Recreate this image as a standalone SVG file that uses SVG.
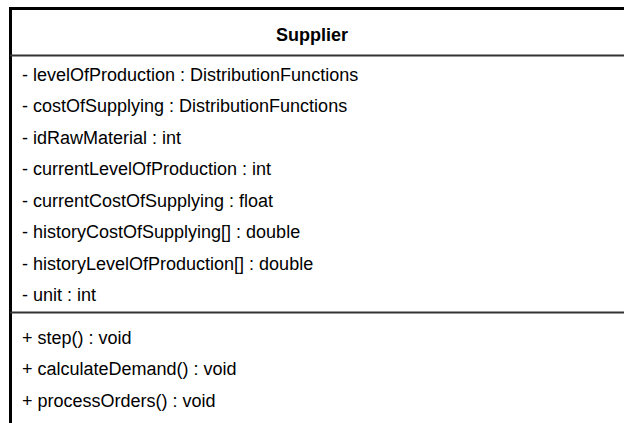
<svg xmlns="http://www.w3.org/2000/svg" width="624" height="423" viewBox="0 0 624 423">
  <style>
    .frame { fill: #ffffff; stroke: #000000; stroke-width: 3; }
    .sep { stroke: #333333; stroke-width: 2; }
    .title { font-family: "Liberation Sans", Arial, sans-serif; font-size: 18px; font-weight: bold; fill: #000000; }
    .member { font-family: "Liberation Sans", Arial, sans-serif; font-size: 18px; fill: #000000; }
  </style>
  <rect width="624" height="423" fill="#ffffff"/>
  <g id="Supplier">
    <!-- class frame runs past the right and bottom edges -->
    <rect class="frame" x="10.5" y="8.5" width="700" height="500"/>
    <line class="sep" x1="10" y1="55.5" x2="624" y2="55.5"/>
    <line class="sep" x1="10" y1="312.5" x2="624" y2="312.5"/>
    <text class="title" x="312" y="41" text-anchor="middle">Supplier</text>
    <g class="member">
      <text x="22" y="80.5">- levelOfProduction : DistributionFunctions</text>
      <text x="22" y="112">- costOfSupplying : DistributionFunctions</text>
      <text x="22" y="143.5">- idRawMaterial : int</text>
      <text x="22" y="175">- currentLevelOfProduction : int</text>
      <text x="22" y="206.5">- currentCostOfSupplying : float</text>
      <text x="22" y="238">- historyCostOfSupplying[] : double</text>
      <text x="22" y="269.5">- historyLevelOfProduction[] : double</text>
      <text x="22" y="301">- unit : int</text>
      <text x="22" y="343.5">+ step() : void</text>
      <text x="22" y="375">+ calculateDemand() : void</text>
      <text x="22" y="406.5">+ processOrders() : void</text>
    </g>
  </g>
</svg>
